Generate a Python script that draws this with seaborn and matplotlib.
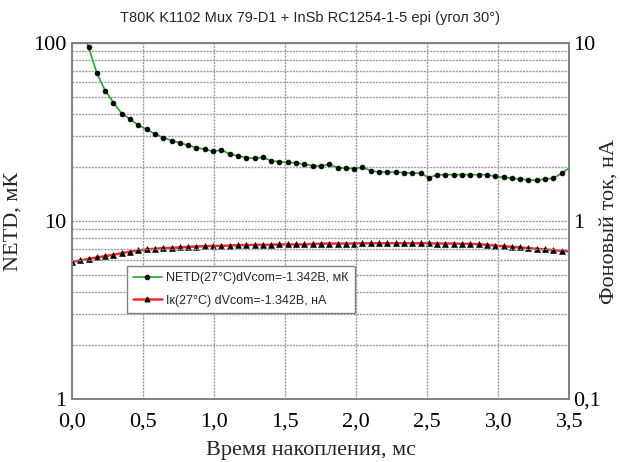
import matplotlib
matplotlib.use("Agg")
import matplotlib.pyplot as plt
import matplotlib.ticker as mticker
from matplotlib.lines import Line2D
import seaborn as sns
import pandas as pd

# Integration time samples, ms
t_ms = [0.000, 0.058, 0.117, 0.175, 0.234, 0.292, 0.350, 0.409, 0.467, 0.526,
        0.584, 0.642, 0.701, 0.759, 0.818, 0.876, 0.934, 0.993, 1.051, 1.110,
        1.168, 1.226, 1.285, 1.343, 1.402, 1.460, 1.518, 1.577, 1.635, 1.694,
        1.752, 1.810, 1.869, 1.927, 1.986, 2.044, 2.102, 2.161, 2.219, 2.278,
        2.336, 2.394, 2.453, 2.511, 2.570, 2.628, 2.686, 2.745, 2.803, 2.862,
        2.920, 2.978, 3.037, 3.095, 3.154, 3.212, 3.270, 3.329, 3.387, 3.446,
        3.504]

# NETD, mK (from the second sample onward; the first one is off scale)
netd_mk = [125.0, 94.6, 67.6, 54.0, 46.2, 40.1, 37.4, 34.5, 32.7, 30.8, 29.4,
           28.3, 27.5, 26.6, 25.8, 25.3, 24.6, 25.1, 23.8, 23.2, 22.7,
           22.5, 22.8, 21.8, 21.5, 21.4, 21.2, 20.8, 20.5, 20.3, 20.9,
           19.9, 19.8, 19.7, 20.0, 19.2, 18.8, 18.9, 18.8, 18.7, 18.6,
           18.6, 17.5, 18.2, 18.2, 18.2, 18.2, 18.2, 18.2, 18.2, 17.8,
           17.6, 17.4, 17.2, 17.0, 16.9, 17.2, 17.4, 18.5, 20.0]

# Background current, nA
ik_na = [0.590, 0.600, 0.613, 0.624, 0.635, 0.646, 0.660, 0.672, 0.683, 0.692,
         0.698, 0.704, 0.707, 0.710, 0.716, 0.719, 0.722, 0.725, 0.725, 0.728,
         0.732, 0.732, 0.735, 0.735, 0.735, 0.738, 0.738, 0.738, 0.738, 0.743,
         0.744, 0.747, 0.747, 0.747, 0.747, 0.750, 0.750, 0.750, 0.750, 0.750,
         0.750, 0.750, 0.750, 0.750, 0.747, 0.747, 0.747, 0.744, 0.744, 0.741,
         0.735, 0.728, 0.722, 0.716, 0.710, 0.704, 0.698, 0.692, 0.686, 0.680,
         0.675]

x_ticks = [0.0, 0.5, 1.0, 1.5, 2.0, 2.5, 3.0, 3.5]
x_tick_labels = ["0,0", "0,5", "1,0", "1,5", "2,0", "2,5", "3,0", "3,5"]
left_ticks = [1, 10, 100]
left_tick_labels = ["1", "10", "100"]
right_ticks = [0.1, 1, 10]
right_tick_labels = ["0,1", "1", "10"]

title = "T80K K1102 Mux 79-D1 + InSb RC1254-1-5 epi (угол 30°)"
netd_label = "NETD(27°C)dVcom=-1.342В, мК"
ik_label = "Iк(27°C) dVcom=-1.342В, нА"

netd_df = pd.DataFrame({"t": t_ms[1:], "v": netd_mk})
ik_df = pd.DataFrame({"t": t_ms, "v": ik_na})

sns.set_theme(style="white")
plt.rcParams["font.family"] = ["Liberation Serif", "DejaVu Serif"]

GREEN = "#2aa52a"
RED = "#ff2a2a"
GRID = "#9a9a9a"
SPINE = "#808080"

fig = plt.figure(figsize=(6.2, 4.62), dpi=100)
ax = fig.add_axes([72 / 620, 1 - 399 / 462, (569.3 - 72) / 620, (399 - 43) / 462])
ax2 = ax.twinx()

sns.lineplot(data=netd_df, x="t", y="v", ax=ax, color=GREEN, lw=1.2,
             marker="o", ms=3.4, mfc="black", mec="black", mew=0.6,
             markevery=list(range(1, len(netd_mk) - 1)), zorder=5)
sns.lineplot(data=ik_df, x="t", y="v", ax=ax2, color=RED, lw=1.8,
             marker="^", ms=3.8, mfc="black", mec="black", mew=0.4,
             markevery=list(range(len(ik_na) - 1)), zorder=5)

for a, lo, hi in ((ax, 1, 100), (ax2, 0.1, 10)):
    a.set_yscale("log")
    a.set_ylim(lo, hi)
    a.set_xlim(0, 3.5)

ax.set_xticks(x_ticks)
ax.set_xticklabels(x_tick_labels)
ax.xaxis.set_minor_locator(mticker.MultipleLocator(0.1))
ax.set_yticks(left_ticks)
ax.set_yticklabels(left_tick_labels)
ax.yaxis.set_minor_locator(mticker.LogLocator(base=10, subs=range(2, 10)))
ax.yaxis.set_minor_formatter(mticker.NullFormatter())
ax2.set_yticks(right_ticks)
ax2.set_yticklabels(right_tick_labels)
ax2.yaxis.set_minor_locator(mticker.NullLocator())

ax.grid(True, which="major", axis="both", color=GRID, lw=1.0, ls=(0, (1.5, 0.8)))
ax.grid(True, which="minor", axis="y", color=GRID, lw=1.0, ls=(0, (1.5, 0.8)))
ax.set_axisbelow(True)

for a in (ax, ax2):
    for s in a.spines.values():
        s.set_color(SPINE)
        s.set_linewidth(1.2)
    a.tick_params(which="both", colors=SPINE, labelcolor="black", labelsize=16,
                  direction="out")
    a.tick_params(which="major", length=4, width=1)
    a.tick_params(which="minor", length=3, width=0.8)
ax.tick_params(axis="y", which="both", length=0, pad=4)
ax2.tick_params(axis="y", which="both", length=0, pad=3)
ax.tick_params(axis="x", which="major", pad=6)

ax.set_xlabel("Время накопления, мс", fontsize=16)
ax.xaxis.set_label_coords(0.48, -0.118)
ax.set_ylabel("NETD, мК", fontsize=16)
ax.yaxis.set_label_coords(-0.1, 0.5)
ax2.set_ylabel("Фоновый ток, нА", fontsize=16)
ax2.yaxis.set_label_coords(1.06, 0.5)

fig.text(0.5, 1 - 18 / 462, title, ha="center", va="center", fontsize=10.5,
         family=["Liberation Sans", "DejaVu Sans"])

handles = [
    Line2D([], [], color=GREEN, lw=1.2, marker="o", ms=3.0, mfc="black", mec="black"),
    Line2D([], [], color=RED, lw=1.8, marker="^", ms=3.4, mfc="black", mec="black"),
]
leg = ax.legend(handles, [netd_label, ik_label], loc="upper left",
                bbox_to_anchor=(0.11, 0.374), frameon=True, fancybox=False,
                framealpha=1, edgecolor="#808080", handlelength=2.3,
                borderpad=0.5, labelspacing=0.85, handletextpad=0.35,
                borderaxespad=0.0,
                prop={"family": ["Liberation Sans", "DejaVu Sans"], "size": 9})
leg.get_frame().set_linewidth(1.0)
if ax2.get_legend() is not None:
    ax2.get_legend().remove()
ax.set_zorder(ax2.get_zorder() + 1)
ax.patch.set_visible(False)

fig.savefig("out.png", dpi=100)
